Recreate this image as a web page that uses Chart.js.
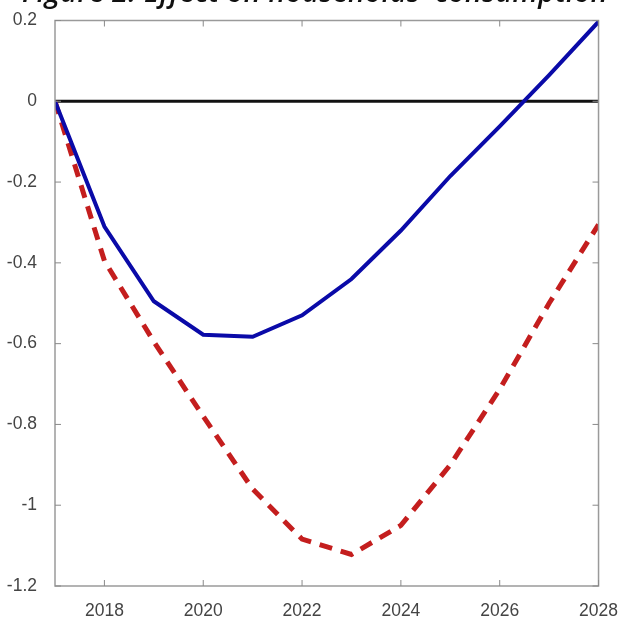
<!DOCTYPE html>
<html>
<head>
<meta charset="utf-8">
<script src="https://cdn.jsdelivr.net/npm/chart.js@4"></script>
<style>
  html,body{margin:0;padding:0;background:#fff;overflow:hidden;}
  #wrap{position:relative;width:625px;height:619px;}
  #title{position:absolute;left:0;top:-26px;width:630px;text-align:center;
    font-family:"Open Sans","Liberation Sans",sans-serif;font-style:italic;font-weight:600;
    font-size:28.5px;letter-spacing:0.3px;color:#111;white-space:nowrap;line-height:34px;}
  canvas{position:absolute;left:0;top:0;}
</style>
</head>
<body>
<div id="wrap">
<canvas id="c" width="625" height="619"></canvas>
<div id="title">Figure 2. Effect on households' consumption</div>
</div>
<script>
const years = [2017,2018,2019,2020,2021,2022,2023,2024,2025,2026,2027,2028];
const seriesBlue = [0,-0.31,-0.495,-0.578,-0.583,-0.53,-0.44,-0.32,-0.185,-0.062,0.065,0.197];
const seriesRed  = [0,-0.395,-0.595,-0.78,-0.96,-1.084,-1.122,-1.05,-0.9,-0.713,-0.5,-0.305];
const zeroLineYears = [2017,2028];
const zeroLineValues = [0,0];
const xTicks = [2018,2020,2022,2024,2026,2028];
const yTicks = [0.2,0,-0.2,-0.4,-0.6,-0.8,-1,-1.2];

const toXY = (xs, ys) => xs.map((x,i)=>({x:x,y:ys[i]}));

const boxTicks = {
  id:'boxTicks',
  afterDatasetsDraw(chart){
    const {ctx, chartArea:a, scales} = chart;
    ctx.save();
    ctx.strokeStyle = '#9a9a9a';
    ctx.lineWidth = 1.5;
    ctx.strokeRect(a.left, a.top, a.right-a.left, a.bottom-a.top);
    ctx.lineWidth = 1;
    ctx.strokeStyle = '#8a8a8a';
    const L = 6;
    xTicks.forEach(v=>{
      const p = scales.x.getPixelForValue(v);
      ctx.beginPath();
      ctx.moveTo(p,a.bottom); ctx.lineTo(p,a.bottom-L);
      ctx.moveTo(p,a.top); ctx.lineTo(p,a.top+L);
      ctx.stroke();
    });
    yTicks.forEach(v=>{
      const p = scales.y.getPixelForValue(v);
      ctx.beginPath();
      ctx.moveTo(a.left,p); ctx.lineTo(a.left+L,p);
      ctx.moveTo(a.right,p); ctx.lineTo(a.right-L,p);
      ctx.stroke();
    });
    ctx.restore();
  }
};

new Chart(document.getElementById('c'), {
  type:'line',
  data:{
    datasets:[
      {label:'zero', data:toXY(zeroLineYears, zeroLineValues), borderColor:'#111111', borderWidth:3, pointRadius:0, order:3},
      {label:'blue', data:toXY(years, seriesBlue), borderColor:'#0a0aa8', borderWidth:4, pointRadius:0, order:1, tension:0},
      {label:'red', data:toXY(years, seriesRed), borderColor:'#c41e1e', borderWidth:5, borderDash:[13,9], pointRadius:0, order:2, tension:0}
    ]
  },
  options:{
    responsive:false,
    animation:false,
    layout:{padding:{left:0,top:17,right:18,bottom:0}},
    plugins:{legend:{display:false},title:{display:false},tooltip:{enabled:false}},
    scales:{
      x:{
        type:'linear', min:2017, max:2028,
        afterBuildTicks:s=>{s.ticks = xTicks.map(v=>({value:v}));},
        afterFit:s=>{s.height = 33;},
        grid:{display:false},
        border:{display:false},
        ticks:{color:'#444', padding:7, font:{family:'"Liberation Sans", Arial, sans-serif', size:17.5}, callback:v=>String(v), maxRotation:0, autoSkip:false}
      },
      y:{
        type:'linear', min:-1.2, max:0.2,
        afterBuildTicks:s=>{s.ticks = yTicks.map(v=>({value:v}));},
        afterFit:s=>{s.width = 55;},
        grid:{display:false},
        border:{display:false},
        ticks:{color:'#444', padding:10, font:{family:'"Liberation Sans", Arial, sans-serif', size:17.5}, callback:v=>String(Math.round(v*10)/10), autoSkip:false}
      }
    }
  },
  plugins:[boxTicks]
});
</script>
</body>
</html>
